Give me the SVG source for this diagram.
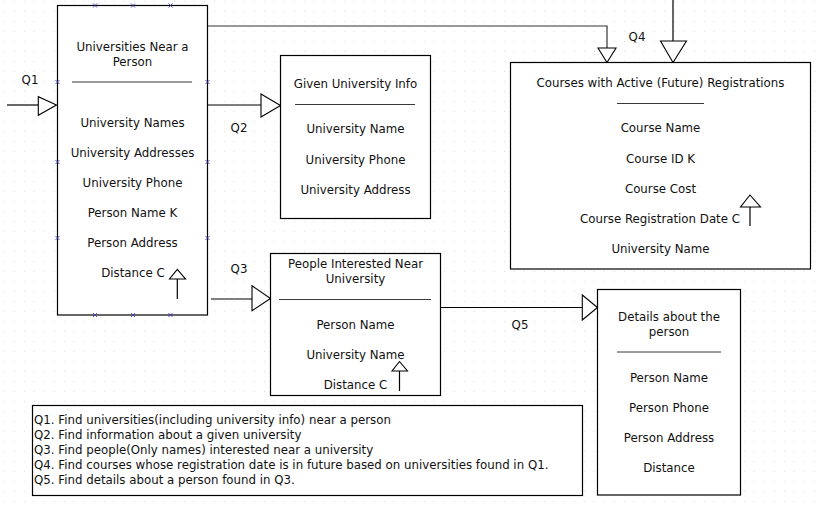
<svg xmlns="http://www.w3.org/2000/svg" width="824" height="509" viewBox="0 0 824 509">
<style>
  text { font-family: "DejaVu Sans", Verdana, sans-serif; font-size: 11.8px; fill: #111; }
  .c { text-anchor: middle; }
  .box { fill: #fff; stroke: #000; stroke-width: 1.2; }
  .sep { stroke: #222; stroke-width: 0.9; }
  .ln { fill: none; stroke: #000; stroke-width: 1.2; }
  .ah { fill: #fff; stroke: #000; stroke-width: 1.1; stroke-linejoin: miter; }
  .mk { stroke: #3a3ab0; stroke-width: 0.9; fill: none; }
</style>
<defs>
  <pattern id="grid" x="4" y="1" width="10" height="10" patternUnits="userSpaceOnUse">
    <rect x="0" y="0" width="1" height="1" fill="#dcdcdc"/>
  </pattern>
  <path id="x" d="M-2,-2 L2,2 M-2,2 L2,-2"/>
</defs>
<rect width="824" height="509" fill="#fff"/>
<rect width="824" height="509" fill="url(#grid)"/>

<g id="connectors">
  <!-- Q1 -->
  <line class="ln" x1="7" y1="105" x2="38.3" y2="105"/>
  <polygon class="ah" points="38.3,96.7 38.3,115.3 56.5,105"/>
  <!-- Q2 -->
  <line class="ln" x1="207.5" y1="105" x2="261" y2="105"/>
  <polygon class="ah" points="261,94 261,117 280.5,105.5"/>
  <!-- Q3 -->
  <line class="ln" x1="211" y1="299" x2="252" y2="299"/>
  <polygon class="ah" points="252,285.7 252,310.7 270.5,298.5"/>
  <!-- Q4 from node 1 -->
  <polyline class="ln" points="207.5,26 607,26 607,48" style="stroke:#333"/>
  <polygon class="ah" points="598,48 616,48 607,62.5"/>
  <!-- Q4 from top -->
  <line class="ln" x1="673" y1="0" x2="673" y2="41"/>
  <polygon class="ah" points="660.5,41 686.5,41 673,62.5"/>
  <!-- Q5 -->
  <line class="ln" x1="437" y1="307.5" x2="582.3" y2="307.5"/>
  <polygon class="ah" points="582.3,295 582.3,320 597.5,307.5"/>
  <!-- labels -->
  <text class="c" x="30" y="84">Q1</text>
  <text class="c" x="239" y="132">Q2</text>
  <text class="c" x="239" y="273">Q3</text>
  <text class="c" x="637" y="41">Q4</text>
  <text class="c" x="520" y="329">Q5</text>
</g>

<g id="node-universities-near-person">
  <rect class="box" x="57.5" y="5.5" width="150" height="309.5"/>
  <text class="c" x="132.5" y="51">Universities Near a</text>
  <text class="c" x="132.5" y="66">Person</text>
  <line class="sep" x1="72" y1="82" x2="192" y2="82"/>
  <text class="c" x="132.5" y="127">University Names</text>
  <text class="c" x="132.5" y="157">University Addresses</text>
  <text class="c" x="132.5" y="187">University Phone</text>
  <text class="c" x="132.5" y="217">Person Name K</text>
  <text class="c" x="132.5" y="247">Person Address</text>
  <text class="c" x="133" y="277">Distance C</text>
  <line class="ln" x1="177.3" y1="299" x2="177.3" y2="279"/>
  <polygon class="ah" points="169.5,279 185.5,279 177.3,269.3"/>
  <g class="mk">
    <use href="#x" x="95" y="5.5"/><use href="#x" x="133" y="5.5"/><use href="#x" x="170.5" y="5.5"/>
    <use href="#x" x="95" y="315"/><use href="#x" x="133" y="315"/><use href="#x" x="170.5" y="315"/>
    <use href="#x" x="57.5" y="82"/><use href="#x" x="57.5" y="162"/><use href="#x" x="57.5" y="238"/>
    <use href="#x" x="207.5" y="82"/><use href="#x" x="207.5" y="162"/><use href="#x" x="207.5" y="238"/>
  </g>
</g>

<g id="node-given-university-info">
  <rect class="box" x="280.5" y="55.5" width="150" height="163"/>
  <text class="c" x="355.5" y="87.5">Given University Info</text>
  <line class="sep" x1="295" y1="104.5" x2="415" y2="104.5"/>
  <text class="c" x="355.5" y="132.5">University Name</text>
  <text class="c" x="355.5" y="163.5">University Phone</text>
  <text class="c" x="355.5" y="193.5">University Address</text>
</g>

<g id="node-courses-active-registrations">
  <rect class="box" x="510.5" y="62.5" width="300" height="206.5"/>
  <text class="c" x="660.5" y="87">Courses with Active (Future) Registrations</text>
  <line class="sep" x1="617" y1="103.5" x2="704" y2="103.5"/>
  <text class="c" x="660.5" y="132">Course Name</text>
  <text class="c" x="660.5" y="163">Course ID K</text>
  <text class="c" x="660.5" y="193">Course Cost</text>
  <text class="c" x="660" y="223">Course Registration Date C</text>
  <text class="c" x="660.5" y="253">University Name</text>
  <line class="ln" x1="750" y1="226" x2="750" y2="207"/>
  <polygon class="ah" points="740.5,207 760.5,207 750,195"/>
</g>

<g id="node-people-interested">
  <rect class="box" x="270.5" y="253.5" width="170" height="142"/>
  <text class="c" x="355.5" y="268">People Interested Near</text>
  <text class="c" x="355.5" y="283">University</text>
  <line class="sep" x1="279" y1="299.5" x2="431" y2="299.5"/>
  <text class="c" x="355.5" y="329">Person Name</text>
  <text class="c" x="355.5" y="359">University Name</text>
  <text class="c" x="355.5" y="389">Distance C</text>
  <line class="ln" x1="399.5" y1="391" x2="399.5" y2="371"/>
  <polygon class="ah" points="392,371 407.5,371 399.5,361.5"/>
</g>

<g id="node-person-details">
  <rect class="box" x="597.5" y="289.5" width="143" height="205.5"/>
  <text class="c" x="669" y="321">Details about the</text>
  <text class="c" x="669" y="336">person</text>
  <line class="sep" x1="617" y1="352" x2="721" y2="352"/>
  <text class="c" x="669" y="382">Person Name</text>
  <text class="c" x="669" y="412">Person Phone</text>
  <text class="c" x="669" y="442">Person Address</text>
  <text class="c" x="669" y="472">Distance</text>
</g>

<g id="legend">
  <rect class="box" x="32.5" y="405.5" width="550" height="90"/>
  <text x="34" y="424">Q1. Find universities(including university info) near a person</text>
  <text x="34" y="439">Q2. Find information about a given university</text>
  <text x="34" y="454">Q3. Find people(Only names) interested near a university</text>
  <text x="34" y="469">Q4. Find courses whose registration date is in future based on universities found in Q1.</text>
  <text x="34" y="484">Q5. Find details about a person found in Q3.</text>
</g>
</svg>
